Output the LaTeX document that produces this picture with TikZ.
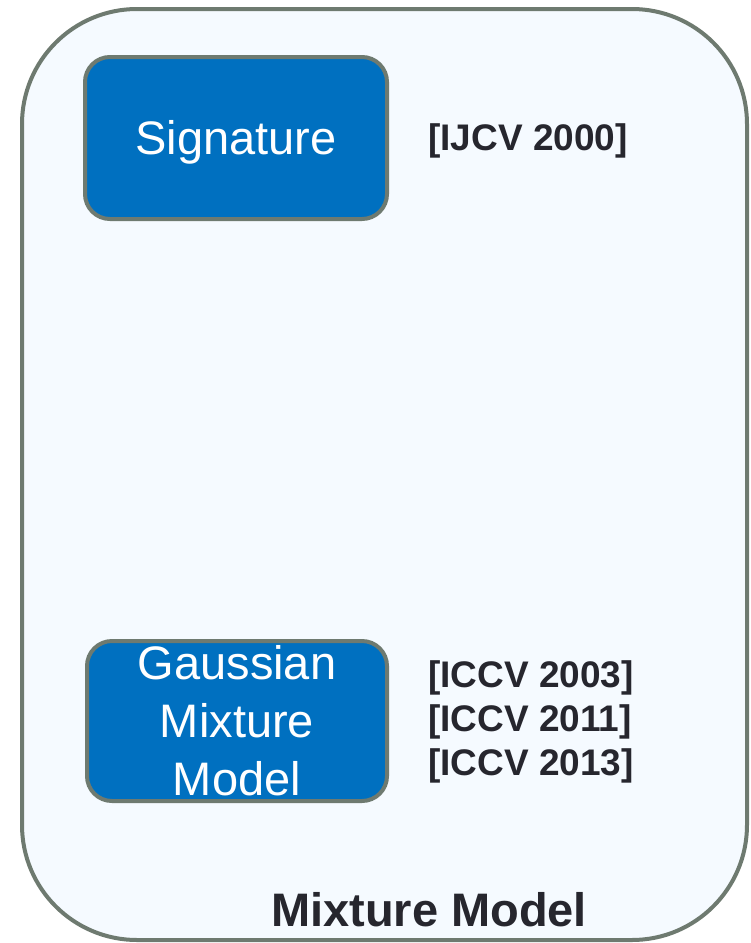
\documentclass[tikz,border=0pt]{standalone}
\usepackage{fontspec}
\setmainfont{Liberation Sans}
\definecolor{frameline}{RGB}{110,122,112}
\definecolor{panelfill}{RGB}{245,250,255}
\definecolor{boxblue}{RGB}{0,112,192}
\definecolor{inkdark}{RGB}{38,38,46}
\tikzset{
  methodbox/.style={rectangle, rounded corners=25pt, fill=boxblue, draw=frameline,
    line width=4pt, text=white, align=center, inner sep=0pt,
    font=\fontsize{47}{58}\selectfont},
  citation/.style={anchor=west, align=left, inner sep=0pt, text=inkdark,
    font=\bfseries\fontsize{37}{44}\selectfont},
  paneltitle/.style={inner sep=0pt, text=inkdark, font=\bfseries\fontsize{47}{56}\selectfont}
}
\begin{document}
\begin{tikzpicture}[x=1pt, y=-1pt]
  \useasboundingbox (0,0) rectangle (751,943);
  % outer panel
  \draw[draw=frameline, fill=panelfill, line width=4pt, rounded corners=115pt]
    (22,9) rectangle (747,940);
  % method boxes
  \node[methodbox, minimum width=302pt, minimum height=162pt] (sig) at (236,138) {};
  \node[text=white, inner sep=0pt, font=\fontsize{47}{58}\selectfont] (sigtext) at (236,142) {Signature};
  \node[methodbox, minimum width=300pt, minimum height=160pt] (gmm) at (237,721)
    {Gaussian\\Mixture\\Model};
  % references
  \node[citation] (sigref) at (428,141) {{[IJCV 2000]}};
  \node[citation] (gmmref) at (428,722) {{[ICCV 2003]}\\{[ICCV 2011]}\\{[ICCV 2013]}};
  % panel title
  \node[paneltitle] (title) at (429,910) {Mixture Model};
\end{tikzpicture}
\end{document}
